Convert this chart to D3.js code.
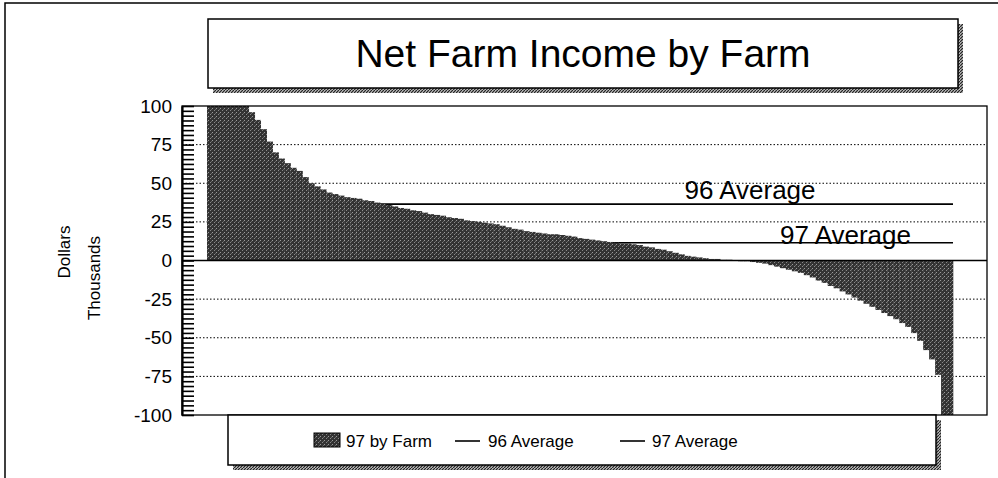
<!DOCTYPE html>
<html>
<head>
<meta charset="utf-8">
<script src="https://cdn.jsdelivr.net/npm/d3@7"></script>
<style>
html,body{margin:0;padding:0;background:#fff;}
svg{display:block;font-family:"Liberation Sans",Arial,sans-serif;}
</style>
</head>
<body>
<svg id="chart" width="998" height="478"></svg>
<script>
// ---- data ----
const income97 = [
  250,190,160,140,125,112,103,96,91,85,
  77,70,66,63,60,58,54,50,48,46,
  44,43,42,41,40.5,40,39,38.5,37.5,36.5,
  36,35,34,33.5,32.5,32,31,30,29.5,29,
  28,27.5,27,26,25.5,25,24.5,24,23.5,22.5,
  21.5,20.5,20,19,18.5,18,17.5,17,17,16.5,
  16,15.5,14.5,14,13.5,13,12.5,12,11.5,11,
  11,10.5,10,9,8.5,7.5,7,6,5,4,
  3,2.5,2,1.5,1,1,0.5,0.5,0,-0.5,
  -0.5,-1,-1.5,-2,-3,-4,-5,-6,-7,-8,
  -9.5,-11,-13,-14.5,-16.5,-18,-20,-22,-24,-26,
  -28,-30,-32,-34,-36,-38,-40.5,-43,-47,-52,
  -58,-64,-74,-130,-180
];
const farms = income97.map((d, i) => "Farm " + (i + 1));
const avg96 = 36.5;
const avg97 = 11.5;
const yTicks = [-100, -75, -50, -25, 0, 25, 50, 75, 100];
const gridTicks = [-75, -50, -25, 25, 50, 75];
const minorTicks = d3.range(-100, 100.001, 3.125);
const title = "Net Farm Income by Farm";
const legendItems = ["97 by Farm", "96 Average", "97 Average"];

// ---- layout ----
const svg = d3.select("#chart");
const plot = {left: 182, right: 987, top: 106, bottom: 415};

const y = d3.scaleLinear().domain([-100, 100]).range([plot.bottom, plot.top]);
const x = d3.scaleBand().domain(farms).range([207, 953]).paddingInner(0).paddingOuter(0);

const defs = svg.append("defs");
// dithered dark fill
const pat = defs.append("pattern").attr("id", "dither")
  .attr("width", 4).attr("height", 4).attr("patternUnits", "userSpaceOnUse");
pat.append("rect").attr("width", 4).attr("height", 4).attr("fill", "#333");
pat.append("rect").attr("x", 0).attr("y", 0).attr("width", 1).attr("height", 1).attr("fill", "#9a9a9a");
pat.append("rect").attr("x", 2).attr("y", 2).attr("width", 1).attr("height", 1).attr("fill", "#888");
pat.append("rect").attr("x", 3).attr("y", 1).attr("width", 1).attr("height", 1).attr("fill", "#666");
// hatched shadow
const hat = defs.append("pattern").attr("id", "hatch")
  .attr("width", 3).attr("height", 3).attr("patternUnits", "userSpaceOnUse");
hat.append("rect").attr("width", 3).attr("height", 3).attr("fill", "#bbb");
hat.append("path").attr("d", "M0,3 L3,0").attr("stroke", "#222").attr("stroke-width", 1.2);

defs.append("clipPath").attr("id", "plotclip").append("rect")
  .attr("x", plot.left).attr("y", plot.top)
  .attr("width", plot.right - plot.left).attr("height", plot.bottom - plot.top);

// outer frame
svg.append("path").attr("d", "M5,478 L5,3 L998,3")
  .attr("fill", "none").attr("stroke", "#000").attr("stroke-width", 1.5);

// title box
const tb = {x: 208, y: 19, w: 750, h: 69};
svg.append("rect").attr("x", tb.x + 5).attr("y", tb.y + 5).attr("width", tb.w).attr("height", tb.h)
  .attr("fill", "url(#hatch)");
svg.append("rect").attr("x", tb.x).attr("y", tb.y).attr("width", tb.w).attr("height", tb.h)
  .attr("fill", "#fff").attr("stroke", "#000").attr("stroke-width", 1.5);
svg.append("text").attr("x", tb.x + tb.w / 2 - 0).attr("y", 67)
  .attr("text-anchor", "middle").attr("font-size", 39).attr("fill", "#000").text(title);

// gridlines
svg.append("g").selectAll("line").data(gridTicks).join("line")
  .attr("x1", plot.left).attr("x2", plot.right)
  .attr("y1", d => y(d)).attr("y2", d => y(d))
  .attr("stroke", "#000").attr("stroke-width", 1).attr("stroke-dasharray", "1.5,2");

// average lines (behind bars)
const avgs = [avg96, avg97];
svg.append("g").selectAll("line").data(avgs).join("line")
  .attr("x1", x(farms[0])).attr("x2", x(farms[farms.length - 1]) + x.bandwidth())
  .attr("y1", d => y(d)).attr("y2", d => y(d))
  .attr("stroke", "#000").attr("stroke-width", 1.6);

// bars
svg.append("g").attr("clip-path", "url(#plotclip)")
  .selectAll("rect").data(income97).join("rect")
  .attr("x", (d, i) => x(farms[i]))
  .attr("width", x.bandwidth() + 0.3)
  .attr("y", d => y(Math.max(0, d)))
  .attr("height", d => Math.abs(y(d) - y(0)))
  .attr("fill", "url(#dither)");

// zero line
svg.append("line").attr("x1", plot.left).attr("x2", plot.right)
  .attr("y1", y(0)).attr("y2", y(0)).attr("stroke", "#000").attr("stroke-width", 1.5);

// plot border
svg.append("rect").attr("x", plot.left).attr("y", plot.top)
  .attr("width", plot.right - plot.left).attr("height", plot.bottom - plot.top)
  .attr("fill", "none").attr("stroke", "#000").attr("stroke-width", 1.3);

// y axis: labels
const yAxis = d3.axisLeft(y).tickValues(yTicks).tickSize(0).tickPadding(10)
  .tickFormat(d => String(d));
const gy = svg.append("g").attr("transform", `translate(${plot.left},0)`).call(yAxis);
gy.select(".domain").attr("stroke", "#000").attr("stroke-width", 2.2);
gy.selectAll("text").attr("font-size", 19).attr("fill", "#000")
  .attr("font-family", "Liberation Sans, Arial, sans-serif");
// minor ticks pointing inward
const yMinor = d3.axisRight(y).tickValues(minorTicks).tickSize(12).tickFormat("");
const gm = svg.append("g").attr("transform", `translate(${plot.left},0)`).call(yMinor);
gm.select(".domain").remove();
gm.selectAll("line").attr("stroke", "#000").attr("stroke-width", 1.6);

// axis titles
svg.append("text").attr("transform", "translate(70,252) rotate(-90)")
  .attr("text-anchor", "middle").attr("font-size", 17).attr("fill", "#000").text("Dollars");
svg.append("text").attr("transform", "translate(100,278) rotate(-90)")
  .attr("text-anchor", "middle").attr("font-size", 17).attr("fill", "#000").text("Thousands");

// average labels
svg.append("text").attr("x", x(farms[80])).attr("y", y(avg96) - 5)
  .attr("font-size", 26).attr("fill", "#000").text("96 Average");
svg.append("text").attr("x", x(farms[96])).attr("y", y(avg97) + 1)
  .attr("font-size", 26).attr("fill", "#000").text("97 Average");

// legend
const lb = {x: 228, y: 415, w: 708, h: 50};
svg.append("rect").attr("x", lb.x + 5).attr("y", lb.y + 5).attr("width", lb.w).attr("height", lb.h)
  .attr("fill", "url(#hatch)");
svg.append("rect").attr("x", lb.x).attr("y", lb.y).attr("width", lb.w).attr("height", lb.h)
  .attr("fill", "#fff").attr("stroke", "#000").attr("stroke-width", 1.5);
const ly = 441;
svg.append("rect").attr("x", 314).attr("y", ly - 8).attr("width", 26).attr("height", 14)
  .attr("fill", "url(#dither)").attr("stroke", "#000").attr("stroke-width", 1);
svg.append("text").attr("x", 346).attr("y", ly + 6).attr("font-size", 17).text(legendItems[0]);
svg.append("line").attr("x1", 455).attr("x2", 480).attr("y1", ly).attr("y2", ly)
  .attr("stroke", "#000").attr("stroke-width", 1.6);
svg.append("text").attr("x", 488).attr("y", ly + 6).attr("font-size", 17).text(legendItems[1]);
svg.append("line").attr("x1", 620).attr("x2", 645).attr("y1", ly).attr("y2", ly)
  .attr("stroke", "#000").attr("stroke-width", 1.6);
svg.append("text").attr("x", 652).attr("y", ly + 6).attr("font-size", 17).text(legendItems[2]);
</script>
</body>
</html>
